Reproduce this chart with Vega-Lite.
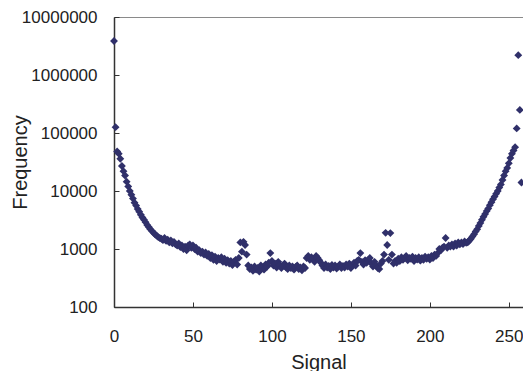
{
  "$schema": "https://vega.github.io/schema/vega-lite/v6.json",
  "width": 409,
  "height": 290,
  "autosize": {"type": "none"},
  "padding": {"left": 114, "top": 17, "right": 0, "bottom": 64},
  "background": "white",
  "config": {
    "view": {"stroke": "#8a8a8a", "strokeWidth": 1},
    "font": "Liberation Sans",
    "axis": {
      "grid": false,
      "domainColor": "#333333",
      "domainWidth": 1.5,
      "tickColor": "#333333",
      "tickSize": -5,
      "tickWidth": 1,
      "labelFlush": false,
      "labelOverlap": false,
      "labelFont": "Liberation Sans",
      "labelFontSize": 17,
      "labelColor": "#222222",
      "titleFont": "Liberation Sans",
      "titleFontSize": 20,
      "titleFontWeight": "normal",
      "titleColor": "#222222"
    }
  },
  "data": {
    "values": [
      {"Signal":0,"Frequency":3860000},{"Signal":1,"Frequency":126000},{"Signal":2,"Frequency":48000},{"Signal":3,"Frequency":44000},{"Signal":4,"Frequency":36000},{"Signal":5,"Frequency":27000},{"Signal":6,"Frequency":22000},{"Signal":7,"Frequency":18500},{"Signal":8,"Frequency":14500},{"Signal":9,"Frequency":12000},
      {"Signal":10,"Frequency":10000},{"Signal":11,"Frequency":8600},{"Signal":12,"Frequency":7400},{"Signal":13,"Frequency":6300},{"Signal":14,"Frequency":5600},{"Signal":15,"Frequency":4900},{"Signal":16,"Frequency":4400},{"Signal":17,"Frequency":3900},{"Signal":18,"Frequency":3500},{"Signal":19,"Frequency":3200},
      {"Signal":20,"Frequency":2900},{"Signal":21,"Frequency":2600},{"Signal":22,"Frequency":2400},{"Signal":23,"Frequency":2200},{"Signal":24,"Frequency":2050},{"Signal":25,"Frequency":1900},{"Signal":26,"Frequency":1800},{"Signal":27,"Frequency":1700},{"Signal":28,"Frequency":1600},{"Signal":29,"Frequency":1550},
      {"Signal":30,"Frequency":1500},{"Signal":31,"Frequency":1420},{"Signal":32,"Frequency":1550},{"Signal":33,"Frequency":1380},{"Signal":34,"Frequency":1450},{"Signal":35,"Frequency":1300},{"Signal":36,"Frequency":1400},{"Signal":37,"Frequency":1250},{"Signal":38,"Frequency":1320},{"Signal":39,"Frequency":1200},
      {"Signal":40,"Frequency":1150},{"Signal":41,"Frequency":1250},{"Signal":42,"Frequency":1080},{"Signal":43,"Frequency":1150},{"Signal":44,"Frequency":1000},{"Signal":45,"Frequency":1100},{"Signal":46,"Frequency":950},{"Signal":47,"Frequency":1150},{"Signal":48,"Frequency":1200},{"Signal":49,"Frequency":1050},
      {"Signal":50,"Frequency":1150},{"Signal":51,"Frequency":1000},{"Signal":52,"Frequency":1050},{"Signal":53,"Frequency":900},{"Signal":54,"Frequency":950},{"Signal":55,"Frequency":850},{"Signal":56,"Frequency":900},{"Signal":57,"Frequency":800},{"Signal":58,"Frequency":870},{"Signal":59,"Frequency":760},
      {"Signal":60,"Frequency":820},{"Signal":61,"Frequency":700},{"Signal":62,"Frequency":780},{"Signal":63,"Frequency":650},{"Signal":64,"Frequency":740},{"Signal":65,"Frequency":620},{"Signal":66,"Frequency":700},{"Signal":67,"Frequency":660},{"Signal":68,"Frequency":720},{"Signal":69,"Frequency":600},
      {"Signal":70,"Frequency":680},{"Signal":71,"Frequency":580},{"Signal":72,"Frequency":640},{"Signal":73,"Frequency":560},{"Signal":74,"Frequency":620},{"Signal":75,"Frequency":530},{"Signal":76,"Frequency":600},{"Signal":77,"Frequency":650},{"Signal":78,"Frequency":540},{"Signal":79,"Frequency":700},
      {"Signal":80,"Frequency":1300},{"Signal":81,"Frequency":900},{"Signal":82,"Frequency":1330},{"Signal":83,"Frequency":1170},{"Signal":84,"Frequency":800},{"Signal":85,"Frequency":520},{"Signal":86,"Frequency":450},{"Signal":87,"Frequency":480},{"Signal":88,"Frequency":420},{"Signal":89,"Frequency":500},
      {"Signal":90,"Frequency":440},{"Signal":91,"Frequency":470},{"Signal":92,"Frequency":410},{"Signal":93,"Frequency":520},{"Signal":94,"Frequency":480},{"Signal":95,"Frequency":440},{"Signal":96,"Frequency":540},{"Signal":97,"Frequency":500},{"Signal":98,"Frequency":580},{"Signal":99,"Frequency":850},
      {"Signal":100,"Frequency":620},{"Signal":101,"Frequency":520},{"Signal":102,"Frequency":560},{"Signal":103,"Frequency":480},{"Signal":104,"Frequency":600},{"Signal":105,"Frequency":530},{"Signal":106,"Frequency":470},{"Signal":107,"Frequency":520},{"Signal":108,"Frequency":560},{"Signal":109,"Frequency":480},
      {"Signal":110,"Frequency":450},{"Signal":111,"Frequency":520},{"Signal":112,"Frequency":470},{"Signal":113,"Frequency":500},{"Signal":114,"Frequency":440},{"Signal":115,"Frequency":490},{"Signal":116,"Frequency":520},{"Signal":117,"Frequency":450},{"Signal":118,"Frequency":480},{"Signal":119,"Frequency":430},
      {"Signal":120,"Frequency":500},{"Signal":121,"Frequency":470},{"Signal":122,"Frequency":700},{"Signal":123,"Frequency":760},{"Signal":124,"Frequency":650},{"Signal":125,"Frequency":720},{"Signal":126,"Frequency":680},{"Signal":127,"Frequency":600},{"Signal":128,"Frequency":760},{"Signal":129,"Frequency":700},
      {"Signal":130,"Frequency":640},{"Signal":131,"Frequency":580},{"Signal":132,"Frequency":520},{"Signal":133,"Frequency":470},{"Signal":134,"Frequency":540},{"Signal":135,"Frequency":480},{"Signal":136,"Frequency":510},{"Signal":137,"Frequency":450},{"Signal":138,"Frequency":530},{"Signal":139,"Frequency":480},
      {"Signal":140,"Frequency":520},{"Signal":141,"Frequency":460},{"Signal":142,"Frequency":500},{"Signal":143,"Frequency":540},{"Signal":144,"Frequency":470},{"Signal":145,"Frequency":510},{"Signal":146,"Frequency":480},{"Signal":147,"Frequency":540},{"Signal":148,"Frequency":500},{"Signal":149,"Frequency":560},
      {"Signal":150,"Frequency":470},{"Signal":151,"Frequency":530},{"Signal":152,"Frequency":580},{"Signal":153,"Frequency":520},{"Signal":154,"Frequency":620},{"Signal":155,"Frequency":650},{"Signal":156,"Frequency":850},{"Signal":157,"Frequency":600},{"Signal":158,"Frequency":540},{"Signal":159,"Frequency":640},
      {"Signal":160,"Frequency":580},{"Signal":161,"Frequency":650},{"Signal":162,"Frequency":700},{"Signal":163,"Frequency":560},{"Signal":164,"Frequency":500},{"Signal":165,"Frequency":600},{"Signal":166,"Frequency":520},{"Signal":167,"Frequency":470},{"Signal":168,"Frequency":450},{"Signal":169,"Frequency":560},
      {"Signal":170,"Frequency":620},{"Signal":171,"Frequency":800},{"Signal":172,"Frequency":1900},{"Signal":173,"Frequency":1170},{"Signal":174,"Frequency":650},{"Signal":175,"Frequency":1880},{"Signal":176,"Frequency":800},{"Signal":177,"Frequency":560},{"Signal":178,"Frequency":620},{"Signal":179,"Frequency":580},
      {"Signal":180,"Frequency":680},{"Signal":181,"Frequency":620},{"Signal":182,"Frequency":720},{"Signal":183,"Frequency":650},{"Signal":184,"Frequency":700},{"Signal":185,"Frequency":760},{"Signal":186,"Frequency":640},{"Signal":187,"Frequency":700},{"Signal":188,"Frequency":680},{"Signal":189,"Frequency":740},
      {"Signal":190,"Frequency":620},{"Signal":191,"Frequency":700},{"Signal":192,"Frequency":660},{"Signal":193,"Frequency":720},{"Signal":194,"Frequency":630},{"Signal":195,"Frequency":700},{"Signal":196,"Frequency":650},{"Signal":197,"Frequency":740},{"Signal":198,"Frequency":680},{"Signal":199,"Frequency":720},
      {"Signal":200,"Frequency":660},{"Signal":201,"Frequency":760},{"Signal":202,"Frequency":700},{"Signal":203,"Frequency":800},{"Signal":204,"Frequency":760},{"Signal":205,"Frequency":850},{"Signal":206,"Frequency":1000},{"Signal":207,"Frequency":950},{"Signal":208,"Frequency":1050},{"Signal":209,"Frequency":1100},
      {"Signal":210,"Frequency":1550},{"Signal":211,"Frequency":1050},{"Signal":212,"Frequency":1150},{"Signal":213,"Frequency":1100},{"Signal":214,"Frequency":1200},{"Signal":215,"Frequency":1100},{"Signal":216,"Frequency":1250},{"Signal":217,"Frequency":1150},{"Signal":218,"Frequency":1300},{"Signal":219,"Frequency":1200},
      {"Signal":220,"Frequency":1300},{"Signal":221,"Frequency":1220},{"Signal":222,"Frequency":1350},{"Signal":223,"Frequency":1280},{"Signal":224,"Frequency":1300},{"Signal":225,"Frequency":1400},{"Signal":226,"Frequency":1500},{"Signal":227,"Frequency":1650},{"Signal":228,"Frequency":1800},{"Signal":229,"Frequency":2000},
      {"Signal":230,"Frequency":2200},{"Signal":231,"Frequency":2500},{"Signal":232,"Frequency":2800},{"Signal":233,"Frequency":3200},{"Signal":234,"Frequency":3600},{"Signal":235,"Frequency":4000},{"Signal":236,"Frequency":4500},{"Signal":237,"Frequency":5000},{"Signal":238,"Frequency":5700},{"Signal":239,"Frequency":6400},
      {"Signal":240,"Frequency":7200},{"Signal":241,"Frequency":8000},{"Signal":242,"Frequency":9000},{"Signal":243,"Frequency":10000},{"Signal":244,"Frequency":11500},{"Signal":245,"Frequency":13000},{"Signal":246,"Frequency":15500},{"Signal":247,"Frequency":18500},{"Signal":248,"Frequency":22000},{"Signal":249,"Frequency":25000},
      {"Signal":250,"Frequency":30000},{"Signal":251,"Frequency":37000},{"Signal":252,"Frequency":44000},{"Signal":253,"Frequency":50000},{"Signal":254,"Frequency":57000},{"Signal":255,"Frequency":120000},{"Signal":256,"Frequency":2200000},{"Signal":257,"Frequency":250000},{"Signal":258,"Frequency":14000}
    ]
  },
  "mark": {"type": "point", "shape": "diamond", "filled": true, "size": 62, "color": "#30306a", "opacity": 1},
  "encoding": {
    "x": {
      "field": "Signal",
      "type": "quantitative",
      "scale": {"domain": [0, 259], "nice": false, "zero": false},
      "axis": {
        "title": "Signal",
        "values": [0, 50, 100, 150, 200, 250],
        "labelPadding": 26,
        "titleBaseline": "alphabetic",
        "titleY": 61
      }
    },
    "y": {
      "field": "Frequency",
      "type": "quantitative",
      "scale": {"type": "log", "domain": [100, 10000000], "nice": false},
      "axis": {
        "title": "Frequency",
        "values": [100, 1000, 10000, 100000, 1000000, 10000000],
        "format": "d",
        "labelPadding": 22,
        "titleAngle": -90,
        "titleBaseline": "alphabetic",
        "titleAlign": "center",
        "titleX": -88,
        "titleY": 145
      }
    }
  }
}
